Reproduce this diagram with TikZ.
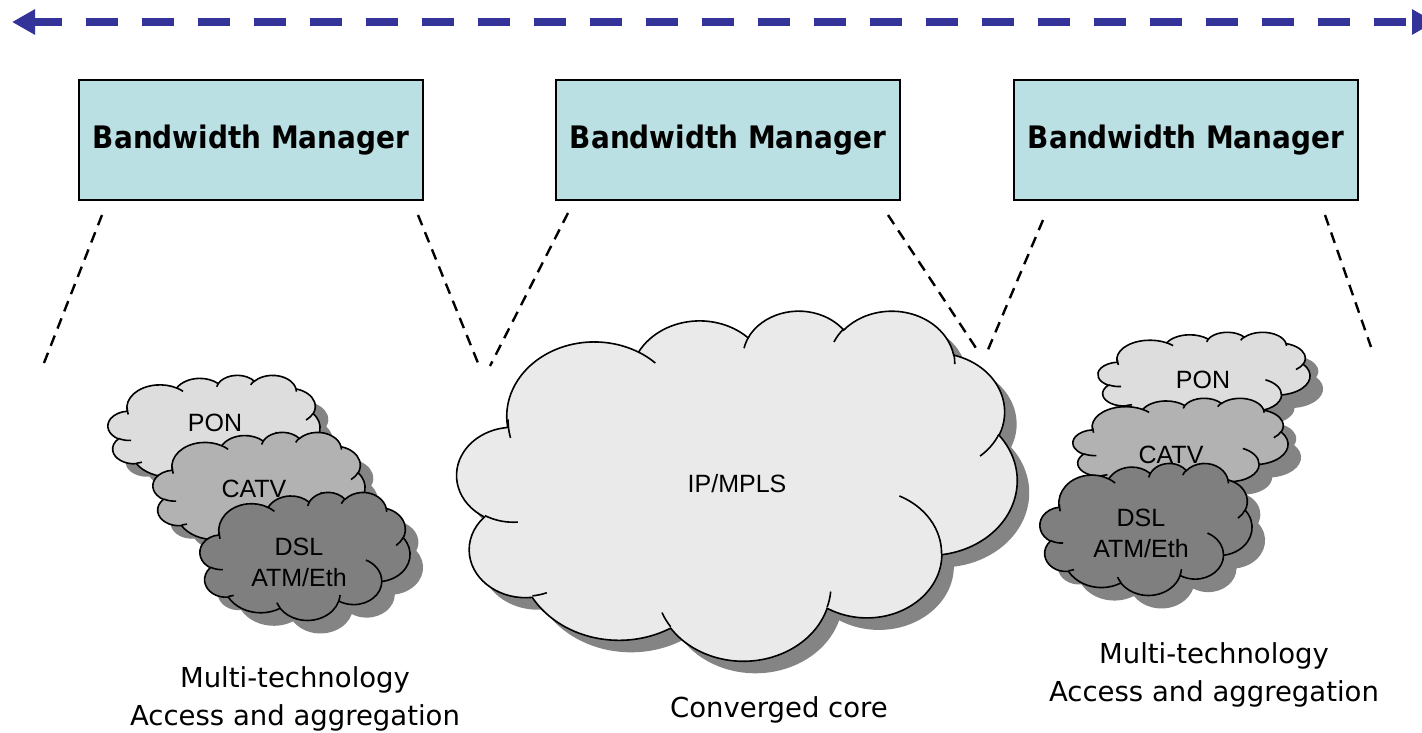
\documentclass[tikz,border=0pt]{standalone}
\usepackage{fontspec}
\setmainfont{DejaVu Sans}
\newfontfamily\labfont{Liberation Sans}
\newfontfamily\bmfont[FakeStretch=0.9]{DejaVu Sans Bold}
\usetikzlibrary{arrows.meta}
\definecolor{arrowblue}{HTML}{333399}
\definecolor{boxfill}{HTML}{BBE0E3}
\definecolor{corefill}{HTML}{EAEAEA}
\definecolor{ponfill}{HTML}{DDDDDD}
\definecolor{catvfill}{HTML}{B2B2B2}
\definecolor{dslfill}{HTML}{7F7F7F}
\definecolor{shadowgray}{HTML}{848484}
% elliptical arc with "visual" start angle and sweep (DrawingML arcTo)
\newcommand\carc[4]{arc[x radius=#1pt, y radius=#2pt,
  start angle={atan2(#1*sin(#3),#2*cos(#3))},
  delta angle={mod(atan2(#1*sin(#3+#4),#2*cos(#3+#4))-atan2(#1*sin(#3),#2*cos(#3))+720,360)}]}
\newcommand\cloudmain{(3.9pt,14.37pt)
  \carc{6.753}{9.19}{-190.4875}{123.7805}
  \carc{5.333}{7.267}{-144.1024}{89.9452}
  \carc{4.365}{5.945}{-145.8079}{99.7230}
  \carc{4.857}{6.595}{-130.9861}{117.2417}
  \carc{5.333}{7.273}{-78.7089}{109.0269}
  \carc{6.775}{9.22}{-46.2673}{130.2690}
  \carc{5.785}{7.867}{0.6250}{114.0333}
  \carc{6.752}{9.215}{22.4516}{115.1726}
  \carc{7.72}{10.543}{66.2426}{75.7110}
  \carc{4.36}{5.918}{-274.9421}{146.7356}
  \carc{4.345}{5.945}{-246.8285}{152.5189} -- cycle}
\newcommand\cloudinner{
  (4.693pt,26.177pt) \carc{4.345}{5.945}{86.7420}{26.4295}
  (6.928pt,34.899pt) \carc{4.36}{5.918}{73.6105}{11.4475}
  (16.478pt,39.09pt) \carc{6.752}{9.215}{137.6242}{14.0811}
  (28.827pt,34.751pt) \carc{6.752}{9.215}{6.4533}{15.9984}
  (34.129pt,22.954pt) \carc{5.785}{7.867}{-70.2924}{70.9174}
  (41.798pt,15.354pt) \carc{5.333}{7.273}{30.3180}{27.7515}
  (38.324pt,5.426pt) \carc{4.857}{6.595}{-13.7443}{14.8589}
  (29.078pt,3.952pt) \carc{4.857}{6.595}{-149.1815}{18.1954}
  (22.141pt,4.72pt) \carc{4.365}{5.945}{-163.4943}{17.6864}
  (14pt,5.192pt) \carc{6.753}{9.19}{-66.7070}{12.3194}
  (4.127pt,15.789pt) \carc{6.753}{9.19}{162.0468}{19.4276}}
% #1 x0, #2 y0, #3 width, #4 height, #5 fill colour, #6 shadow offset
\newcommand\drawcloud[6]{%
  \begin{scope}[shift={(#1+#6,#2+#6)}, xscale=#3/43.2, yscale=-#4/43.2]
    \fill[shadowgray] \cloudmain;
  \end{scope}
  \begin{scope}[shift={(#1,#2)}, xscale=#3/43.2, yscale=-#4/43.2]
    \filldraw[fill=#5, cloudline] \cloudmain;
    \draw[cloudline] \cloudinner;
  \end{scope}}
\begin{document}
\begin{tikzpicture}[x=1pt,y=-1pt,
  span/.style={draw=arrowblue, line width=7.5pt, dash pattern=on 32pt off 24pt, dash phase=4pt,
    arrows={Triangle[length=23pt,width=24pt,fill=arrowblue]-Triangle[length=23pt,width=24pt,fill=arrowblue]}},
  bmbox/.style={draw, line width=2pt, fill=boxfill, minimum width=344pt, minimum height=120pt,
    inner sep=0pt, font=\bmfont\fontsize{31}{36}\selectfont},
  guide/.style={draw, line width=2.4pt, dash pattern=on 11pt off 7.5pt},
  cloudline/.style={draw=black, line width=1.6pt},
  lab/.style={font=\labfont\fontsize{25}{31}\selectfont, align=center, inner sep=0pt},
  caption/.style={font=\fontsize{27.5}{38.5}\selectfont, align=center, inner sep=0pt}]
\useasboundingbox (0,0) rectangle (1422,733);
\fill[white] (0,0) rectangle (1422,733);

% span arrow
\coordinate (arrL) at (12,22);
\coordinate (arrR) at (1435,22);
\draw[span] (arrL) -- (arrR);

% bandwidth managers
\node[bmbox] (bm1) at (251,140) {Bandwidth Manager};
\node[bmbox] (bm2) at (728,140) {Bandwidth Manager};
\node[bmbox] (bm3) at (1186,140) {Bandwidth Manager};

% dashed guide lines
\coordinate (g1a) at (102,215); \coordinate (g1b) at (44,363);
\coordinate (g2a) at (418,215); \coordinate (g2b) at (478,363);
\coordinate (g3a) at (568,213); \coordinate (g3b) at (490,366);
\coordinate (g4a) at (888,215); \coordinate (g4b) at (976,348);
\coordinate (g5a) at (1043,220); \coordinate (g5b) at (987,352);
\coordinate (g6a) at (1325,215); \coordinate (g6b) at (1371,347);
\draw[guide] (g1a) -- (g1b);
\draw[guide] (g2a) -- (g2b);
\draw[guide] (g3a) -- (g3b);
\draw[guide] (g4a) -- (g4b);
\draw[guide] (g5a) -- (g5b);
\draw[guide] (g6a) -- (g6b);

% converged core cloud
\drawcloud{457}{310}{560}{350}{corefill}{12}
\node[lab] (core) at (737,484) {IP/MPLS};

% left access clouds
\drawcloud{108}{375}{212}{108}{ponfill}{13}
\node[lab] (ponL) at (215,423) {PON};
\drawcloud{153}{432}{212}{114}{catvfill}{13}
\node[lab] (catvL) at (254,489) {CATV};
\drawcloud{200}{492}{210}{128}{dslfill}{13}
\node[lab] (dslL) at (299,562) {DSL\\ATM/Eth};

% right access clouds
\drawcloud{1098}{332}{212}{90}{ponfill}{13}
\node[lab] (ponR) at (1203,380) {PON};
\drawcloud{1073}{398}{215}{95}{catvfill}{13}
\node[lab] (catvR) at (1171,455) {CATV};
\drawcloud{1040}{463}{212}{132}{dslfill}{13}
\node[lab] (dslR) at (1141,533) {DSL\\ATM/Eth};

% captions
\node[caption] (capL) at (295,699) {Multi-technology\\Access and aggregation};
\node[caption, anchor=base] (capC) at (779,717) {Converged core};
\node[caption] (capR) at (1214,675) {Multi-technology\\Access and aggregation};
\end{tikzpicture}
\end{document}
